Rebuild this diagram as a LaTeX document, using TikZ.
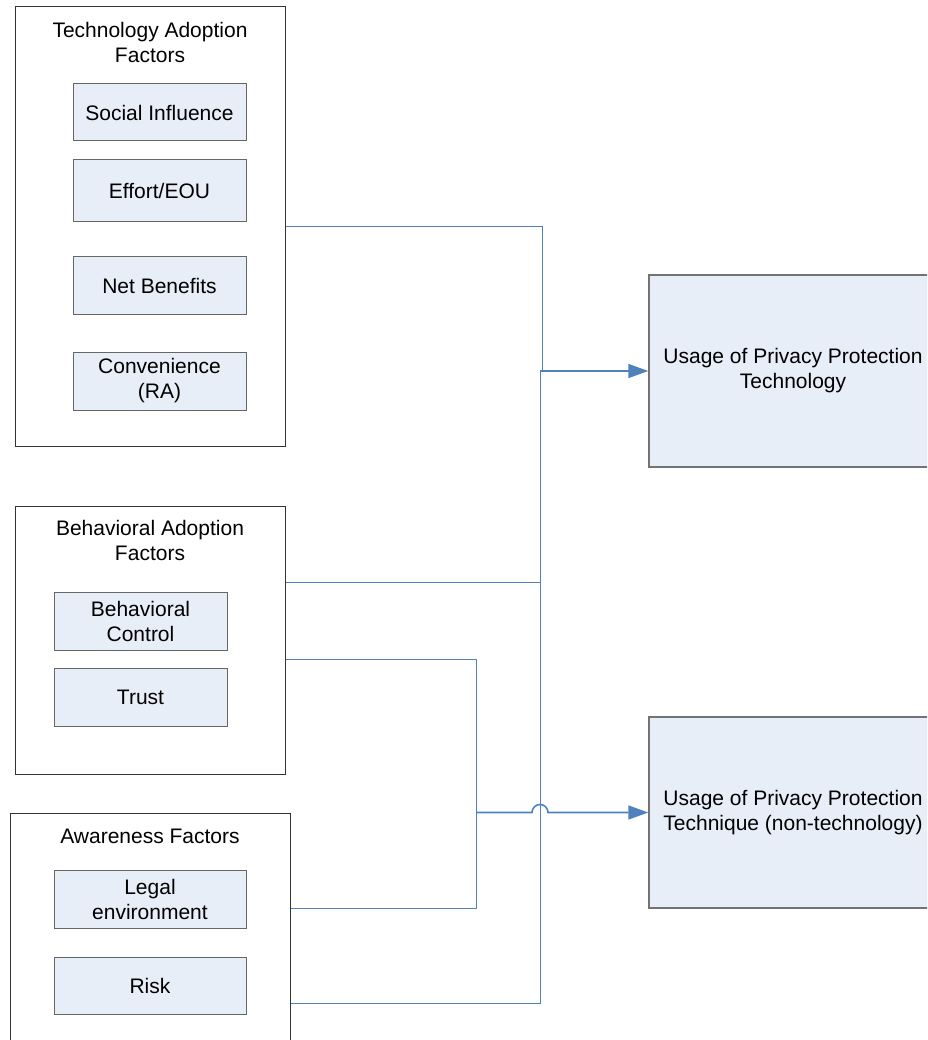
\documentclass[tikz,border=0pt]{standalone}
\usepackage{fontspec}
\setmainfont{Liberation Sans}
\usetikzlibrary{arrows.meta}
\definecolor{linkblue}{HTML}{4F81BD}
\definecolor{boxfill}{HTML}{E8EEF7}
\tikzset{
	group/.style={draw=black!80, line width=1pt, fill=white},
	grouptitle/.style={align=center, font=\fontsize{21}{25}\selectfont},
	factor/.style={draw=black!60, line width=1pt, fill=boxfill, minimum width=173pt, align=center, inner sep=0pt, font=\fontsize{21}{25}\selectfont},
	outcome/.style={draw=black!55, line width=1.5pt, fill=boxfill, minimum width=288pt, align=center, inner sep=0pt, font=\fontsize{21}{25}\selectfont},
	link/.style={draw=linkblue, line width=1pt},
	linkarrow/.style={draw=linkblue, line width=1.6pt, -{Triangle[length=20pt,width=14pt]}}
}

\begin{document}
\begin{tikzpicture}[x=1pt, y=-1pt]
			%%%%% START %%%%%
			\useasboundingbox (0,0) rectangle (927,1040);
			\clip (0,0) rectangle (927,1040);
			
			\node[group, minimum width=270pt, minimum height=439pt] (tech) at (150, 226.5) {};
			\node[grouptitle] (techtitle) at (150, 42.5) {Technology Adoption\\Factors};
			\node[factor, minimum height=57pt] (techsi) at (159.5, 112.5) {Social Influence};
			\node[factor, minimum height=62pt] (techeff) at (159.5, 191) {Effort/EOU};
			\node[factor, minimum height=57pt] (technb) at (159.5, 285.5) {Net Benefits};
			\node[factor, minimum height=58pt] (techconv) at (159.5, 381) {Convenience\\(RA)};
			
			\node[group, minimum width=270pt, minimum height=268pt] (beh) at (150, 640) {};
			\node[grouptitle] (behtitle) at (150, 540.5) {Behavioral Adoption\\Factors};
			\node[factor, minimum height=58pt] (behctl) at (140.5, 621) {Behavioral\\Control};
			\node[factor, minimum height=58pt] (behtrust) at (140.5, 697) {Trust};
			
			\node[group, minimum width=280pt, minimum height=233pt] (aware) at (150, 929.5) {};
			\node[grouptitle] (awaretitle) at (150, 836) {Awareness Factors};
			\node[factor, minimum width=192pt, minimum height=58pt] (awlegal) at (150, 899) {Legal\\environment};
			\node[factor, minimum width=192pt, minimum height=57pt] (awrisk) at (150, 985.5) {Risk};
			
			\node[outcome, minimum height=192pt] (usetech) at (793, 371) {Usage of Privacy Protection\\Technology};
			\node[outcome, minimum height=191pt] (usetq) at (793, 812.5) {Usage of Privacy Protection\\Technique (non-technology)};
			
			\coordinate (jtech) at (542, 371);
			\coordinate (jbeh) at (540, 371);
			\coordinate (jtq) at (476, 812.5);
			\coordinate (hop) at (532, 812.5);
			
			\draw[link] (tech.east) -| (jtech);
			\draw[link] ([yshift=58pt]beh.east) -| (jbeh);
			\draw[link] ([yshift=-73.5pt]aware.east) -| (jbeh);
			\draw[linkarrow] (jbeh) -- (usetech.west);
			
			\draw[link] ([yshift=-19pt]beh.east) -| (jtq);
			\draw[link] ([yshift=21.5pt]aware.east) -| (jtq);
			\draw[linkarrow] (jtq) -- (hop) arc[start angle=180, end angle=0, radius=8pt] -- (usetq.west);
			
			%%%%% END %%%%%
\end{tikzpicture}
\end{document}
